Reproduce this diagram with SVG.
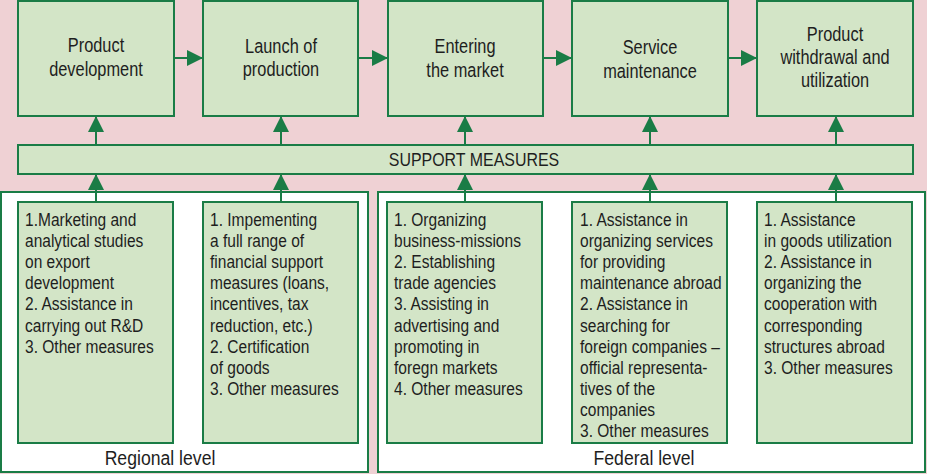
<svg xmlns="http://www.w3.org/2000/svg" width="927" height="474" viewBox="0 0 927 474">
<defs>
<style>
.stage{fill:#d3e5c7;stroke:#1a7c46;stroke-width:2}
.outer{fill:#ffffff;stroke:#1a7c46;stroke-width:2}
.t{font-family:"Liberation Sans",Arial,sans-serif;fill:#1e1e1e;}
.h{font-size:19.5px;text-anchor:middle}
.s{font-size:19px;text-anchor:middle}
.b{font-size:18.5px}
.lv{font-size:21px;text-anchor:middle}
.c{stroke:#1a7c46;stroke-width:2;fill:none;marker-end:url(#ah)}
</style>
<marker id="ah" viewBox="0 0 16 16" refX="16" refY="8" markerWidth="16" markerHeight="16" markerUnits="userSpaceOnUse" orient="auto">
<path d="M0,0 L16,8 L0,16 Z" fill="#1a7c46"/>
</marker>
</defs>
<rect x="0" y="0" width="927" height="474" fill="#efd1d4"/>

<g id="regional-level">
<rect class="outer" x="1" y="192" width="367" height="280"/>
<g transform="translate(160,0) scale(0.84,1)"><text class="t lv" x="0" y="465">Regional level</text></g>
</g>
<g id="federal-level">
<rect class="outer" x="378" y="192" width="547" height="280"/>
<g transform="translate(644,0) scale(0.84,1)"><text class="t lv" x="0" y="465">Federal level</text></g>
</g>

<g id="connectors">
<line class="c" x1="174" y1="58" x2="203" y2="58"/>
<line class="c" x1="358" y1="58" x2="388" y2="58"/>
<line class="c" x1="543" y1="58" x2="572" y2="58"/>
<line class="c" x1="728" y1="58" x2="757" y2="58"/>
<line class="c" x1="96" y1="145" x2="96" y2="116"/>
<line class="c" x1="281" y1="145" x2="281" y2="116"/>
<line class="c" x1="465" y1="145" x2="465" y2="116"/>
<line class="c" x1="650" y1="145" x2="650" y2="116"/>
<line class="c" x1="836" y1="145" x2="836" y2="116"/>
<line class="c" x1="96" y1="202" x2="96" y2="174"/>
<line class="c" x1="281" y1="202" x2="281" y2="174"/>
<line class="c" x1="465" y1="202" x2="465" y2="174"/>
<line class="c" x1="650" y1="202" x2="650" y2="174"/>
<line class="c" x1="836" y1="202" x2="836" y2="174"/>
</g>

<g id="product-development">
<rect class="stage" x="18" y="1" width="156" height="115"/>
<g transform="translate(96,0) scale(0.84,1)">
<text class="t h" x="0" y="52">Product</text>
<text class="t h" x="0" y="76">development</text>
</g>
</g>
<g id="launch-of-production">
<rect class="stage" x="203" y="1" width="155" height="115"/>
<g transform="translate(281,0) scale(0.84,1)">
<text class="t h" x="0" y="53">Launch of</text>
<text class="t h" x="0" y="76">production</text>
</g>
</g>
<g id="entering-the-market">
<rect class="stage" x="388" y="1" width="155" height="115"/>
<g transform="translate(465,0) scale(0.84,1)">
<text class="t h" x="0" y="53">Entering</text>
<text class="t h" x="0" y="77">the market</text>
</g>
</g>
<g id="service-maintenance">
<rect class="stage" x="572" y="1" width="156" height="115"/>
<g transform="translate(650,0) scale(0.84,1)">
<text class="t h" x="0" y="54">Service</text>
<text class="t h" x="0" y="78">maintenance</text>
</g>
</g>
<g id="product-withdrawal">
<rect class="stage" x="757" y="1" width="156" height="115"/>
<g transform="translate(835,0) scale(0.84,1)">
<text class="t h" x="0" y="41">Product</text>
<text class="t h" x="0" y="64">withdrawal and</text>
<text class="t h" x="0" y="87">utilization</text>
</g>
</g>

<g id="support-measures">
<rect class="stage" x="18" y="145" width="895" height="29"/>
<g transform="translate(474,0) scale(0.84,1)">
<text class="t s" x="0" y="166">SUPPORT MEASURES</text>
</g>
</g>

<g id="regional-1">
<rect class="stage" x="18" y="202" width="155" height="241"/>
<g transform="translate(25,0) scale(0.84,1)">
<text class="t b" x="0" y="226">1.Marketing and</text>
<text class="t b" x="0" y="247">analytical studies</text>
<text class="t b" x="0" y="268">on export</text>
<text class="t b" x="0" y="289">development</text>
<text class="t b" x="0" y="310">2. Assistance in</text>
<text class="t b" x="0" y="332">carrying out R&amp;D</text>
<text class="t b" x="0" y="353">3. Other measures</text>
</g>
</g>
<g id="regional-2">
<rect class="stage" x="203" y="202" width="155" height="241"/>
<g transform="translate(210,0) scale(0.84,1)">
<text class="t b" x="0" y="226">1. Impementing</text>
<text class="t b" x="0" y="247">a full range of</text>
<text class="t b" x="0" y="268">financial support</text>
<text class="t b" x="0" y="289">measures (loans,</text>
<text class="t b" x="0" y="310">incentives, tax</text>
<text class="t b" x="0" y="332">reduction, etc.)</text>
<text class="t b" x="0" y="353">2. Certification</text>
<text class="t b" x="0" y="374">of goods</text>
<text class="t b" x="0" y="395">3. Other measures</text>
</g>
</g>
<g id="federal-1">
<rect class="stage" x="387" y="202" width="155" height="241"/>
<g transform="translate(394,0) scale(0.84,1)">
<text class="t b" x="0" y="226">1. Organizing</text>
<text class="t b" x="0" y="247">business-missions</text>
<text class="t b" x="0" y="268">2. Establishing</text>
<text class="t b" x="0" y="289">trade agencies</text>
<text class="t b" x="0" y="310">3. Assisting in</text>
<text class="t b" x="0" y="332">advertising and</text>
<text class="t b" x="0" y="353">promoting in</text>
<text class="t b" x="0" y="374">foregn markets</text>
<text class="t b" x="0" y="395">4. Other measures</text>
</g>
</g>
<g id="federal-2">
<rect class="stage" x="572" y="202" width="155" height="241"/>
<g transform="translate(580,0) scale(0.84,1)">
<text class="t b" x="0" y="226">1. Assistance in</text>
<text class="t b" x="0" y="247">organizing services</text>
<text class="t b" x="0" y="268">for providing</text>
<text class="t b" x="0" y="289">maintenance abroad</text>
<text class="t b" x="0" y="310">2. Assistance in</text>
<text class="t b" x="0" y="332">searching for</text>
<text class="t b" x="0" y="353">foreign companies –</text>
<text class="t b" x="0" y="374">official representa-</text>
<text class="t b" x="0" y="395">tives of the</text>
<text class="t b" x="0" y="416">companies</text>
<text class="t b" x="0" y="437">3. Other measures</text>
</g>
</g>
<g id="federal-3">
<rect class="stage" x="757" y="202" width="155" height="241"/>
<g transform="translate(764,0) scale(0.84,1)">
<text class="t b" x="0" y="226">1. Assistance</text>
<text class="t b" x="0" y="247">in goods utilization</text>
<text class="t b" x="0" y="268">2. Assistance in</text>
<text class="t b" x="0" y="289">organizing the</text>
<text class="t b" x="0" y="310">cooperation with</text>
<text class="t b" x="0" y="332">corresponding</text>
<text class="t b" x="0" y="353">structures abroad</text>
<text class="t b" x="0" y="374">3. Other measures</text>
</g>
</g>
</svg>
